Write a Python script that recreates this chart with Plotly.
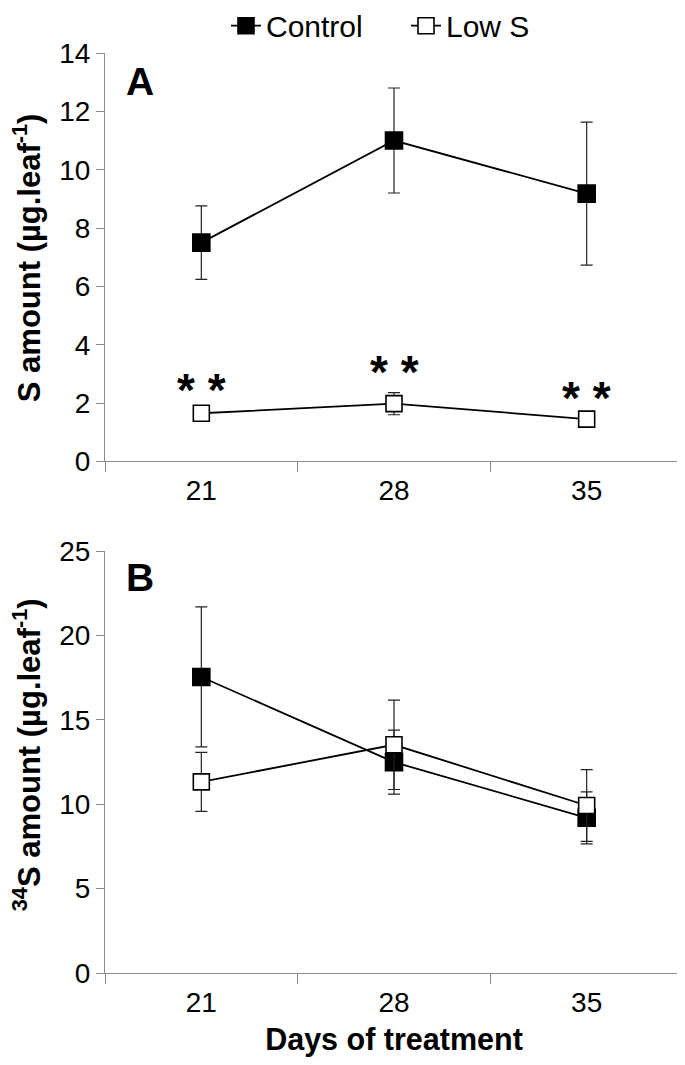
import plotly.graph_objects as go

days = ["21", "28", "35"]

# Panel A: S amount (µg.leaf-1)
a_control = [7.5, 11.0, 9.18]
a_control_err = [1.26, 1.8, 2.45]
a_lows = [1.65, 1.98, 1.45]
a_lows_err = [0.2, 0.38, 0.15]
a_star_y = [2.45, 3.08, 2.19]
a_star_text = ["* *", "* *", "* *"]

# Panel B: 34S amount (µg.leaf-1)
b_control = [17.55, 12.5, 9.2]
b_control_err = [4.15, 1.9, 1.54]
b_lows = [11.33, 13.53, 9.93]
b_lows_err = [1.75, 2.65, 2.13]

FONT = "Liberation Sans, Arial, Helvetica, sans-serif"

# page has an 8px body margin: geometry below is in figure pixels
W, H = 677, 1049
L, R_EDGE = 97, 675
TOP, BOT = 45.3, 965.3
PH = BOT - TOP
PW = R_EDGE - L

def px_x(x):
    return (x - L) / PW

def px_y(y):
    return (BOT - y) / PH

fig = go.Figure()

def add_series(x, y, err, name, filled, xa, ya, show):
    fig.add_trace(go.Scatter(
        x=x, y=y, name=name, mode="lines+markers",
        xaxis=xa, yaxis=ya, showlegend=show, legendgroup=name,
        line=dict(color="black", width=1.8),
        marker=dict(symbol="square", size=17 if filled else 16,
                    color="black" if filled else "white",
                    line=dict(color="black", width=1.6)),
        error_y=dict(type="data", array=err, visible=True,
                     color="#222222", thickness=1.2, width=6),
    ))

add_series(days, a_control, a_control_err, "Control", True, "x", "y", True)
add_series(days, a_lows, a_lows_err, "Low S", False, "x", "y", True)
add_series(days, b_control, b_control_err, "Control", True, "x2", "y2", False)
add_series(days, b_lows, b_lows_err, "Low S", False, "x2", "y2", False)

axis_common = dict(
    showline=True, linecolor="#8a8a8a", linewidth=1,
    ticks="outside", tickcolor="#8a8a8a", tickwidth=1,
    showgrid=False, zeroline=False,
    tickfont=dict(family=FONT, size=28, color="black"),
)
x_common = dict(type="category", tickson="boundaries", range=[-0.5, 2.5],
                ticklen=10, ticklabelstandoff=4, **axis_common)
y_common = dict(ticklen=8, **axis_common)

fig.update_layout(
    width=W, height=H,
    margin=dict(l=L, r=W - R_EDGE, t=TOP, b=H - BOT, autoexpand=False),
    paper_bgcolor="white", plot_bgcolor="white",
    font=dict(family=FONT, color="black"),
    xaxis=dict(anchor="y", **x_common),
    yaxis=dict(domain=[px_y(453.7), 1.0], range=[0, 14], dtick=2, anchor="x",
               **y_common),
    xaxis2=dict(anchor="y2",
                title=dict(text="<b>Days of treatment</b>",
                           font=dict(family=FONT, size=30.5, color="black"),
                           standoff=16),
                **x_common),
    yaxis2=dict(domain=[0.0, px_y(543.6)], range=[0, 25], dtick=5, anchor="x2",
                **y_common),
    legend=dict(orientation="h", x=px_x(218), xanchor="left", y=px_y(18),
                yanchor="middle", font=dict(family=FONT, size=30, color="black"),
                bgcolor="rgba(0,0,0,0)", entrywidth=135, entrywidthmode="pixels",
                tracegroupgap=0),
    showlegend=True,
)

# y-axis titles (placed as rotated text, further left than the margin allows)
fig.add_annotation(x=px_x(19), y=px_y(249.5), xref="paper", yref="paper",
                   text="<b>S amount (µg.leaf<sup>-1</sup>)</b>", textangle=-90,
                   showarrow=False, xanchor="center", yanchor="middle",
                   font=dict(family=FONT, size=31, color="black"))
fig.add_annotation(x=px_x(19), y=px_y(747.5), xref="paper", yref="paper",
                   text="<b><sup>34</sup>S amount (µg.leaf<sup>-1</sup>)</b>", textangle=-90,
                   showarrow=False, xanchor="center", yanchor="middle",
                   font=dict(family=FONT, size=31, color="black"))

for i, (yi, t) in enumerate(zip(a_star_y, a_star_text)):
    fig.add_annotation(x=i, y=yi, xref="x", yref="y", text=f"<b>{t}</b>",
                       showarrow=False, xanchor="center", yanchor="middle",
                       font=dict(family=FONT, size=46, color="black"))

fig.add_annotation(x=px_x(132), y=px_y(74), xref="paper", yref="paper",
                   text="<b>A</b>", showarrow=False, xanchor="center", yanchor="middle",
                   font=dict(family=FONT, size=39, color="black"))
fig.add_annotation(x=px_x(132), y=px_y(570), xref="paper", yref="paper",
                   text="<b>B</b>", showarrow=False, xanchor="center", yanchor="middle",
                   font=dict(family=FONT, size=39, color="black"))

fig.write_html("out.html")
